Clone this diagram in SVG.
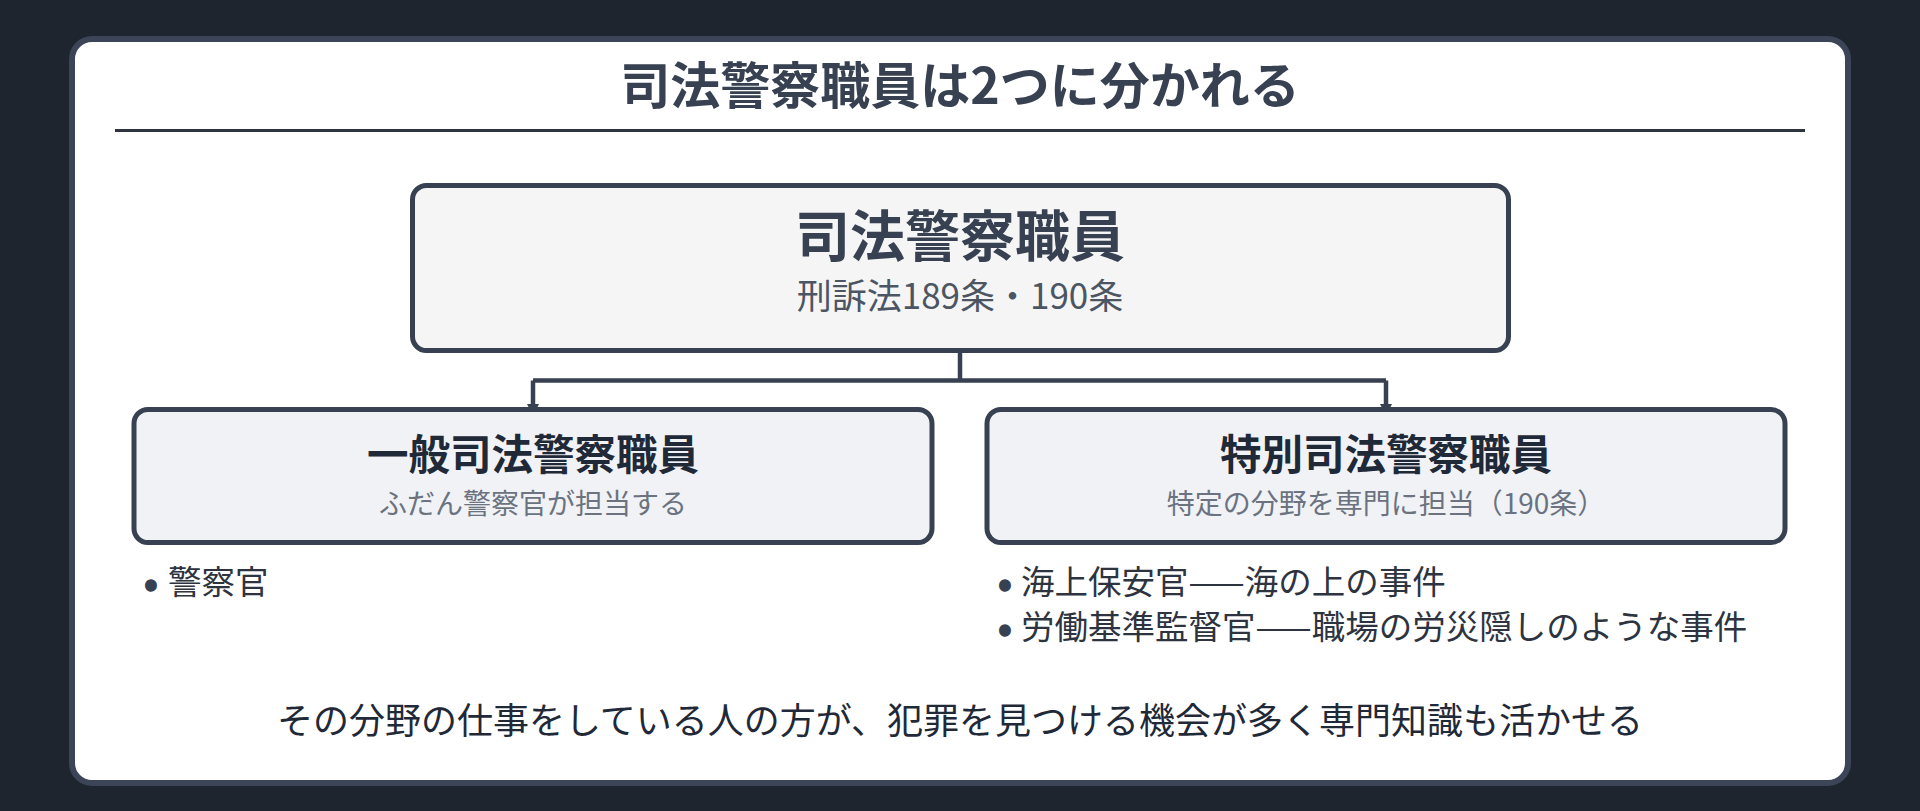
<svg xmlns="http://www.w3.org/2000/svg" width="1920" height="811" viewBox="0 0 1920 811">
<style>
text{font-family:"Noto Sans CJK JP","Noto Sans",sans-serif;}
.t{font-weight:700;fill:#374151;text-anchor:middle;}
.node{stroke:#374151;stroke-width:5;}
.ct{font-weight:700;fill:#1f2937;text-anchor:middle;font-size:41.5px;}
.cs{fill:#6b7280;text-anchor:middle;font-size:28px;}
.b{fill:#2d3440;font-size:33.5px;}
.bm{fill:#374151;stroke:#374151;stroke-width:3.5;stroke-linejoin:round;font-size:33.5px;text-anchor:middle;}
.conn{stroke:#374151;stroke-width:4.5;fill:none;}
</style>
<defs>
<marker id="arr" viewBox="0 0 10 10" refX="10" refY="5" markerWidth="12" markerHeight="24" markerUnits="userSpaceOnUse" orient="auto">
<path d="M0,0 L10,5 L0,10 z" fill="#374151"/>
</marker>
</defs>
<rect x="0" y="0" width="1920" height="811" fill="#1e252f"/>
<rect x="72" y="39" width="1776" height="744" rx="20" fill="#ffffff" stroke="#3b4557" stroke-width="6"/>
<text class="t" x="960" y="104" font-size="50">司法警察職員は2つに分かれる</text>
<line x1="115" y1="130.5" x2="1805" y2="130.5" stroke="#2d3440" stroke-width="3"/>
<g id="connectors">
<path class="conn" d="M960,353 V380.5"/>
<path class="conn" d="M533,380.5 H1386"/>
<path class="conn" d="M533,380.5 V416" marker-end="url(#arr)"/>
<path class="conn" d="M1386,380.5 V416" marker-end="url(#arr)"/>
</g>
<g id="node-root">
<rect class="node" x="412.5" y="185.5" width="1096" height="165" rx="14" fill="#f5f5f5"/>
<text class="t" x="960" y="256" font-size="55">司法警察職員</text>
<text x="960" y="309" font-size="35" fill="#4b5563" text-anchor="middle">刑訴法189条・190条</text>
</g>
<g id="node-general">
<rect class="node" x="134" y="409.5" width="798" height="133" rx="14" fill="#f0f2f6"/>
<text class="ct" x="533" y="470">一般司法警察職員</text>
<text class="cs" x="533" y="514">ふだん警察官が担当する</text>
</g>
<g id="node-special">
<rect class="node" x="987" y="409.5" width="798" height="133" rx="14" fill="#f0f2f6"/>
<text class="ct" x="1386" y="470">特別司法警察職員</text>
<text class="cs" x="1386" y="514">特定の分野を専門に担当（190条）</text>
</g>
<g id="list-general">
<text class="bm" x="151" y="595">•</text>
<text class="b" x="168" y="594">警察官</text>
</g>
<g id="list-special">
<text class="bm" x="1005" y="595">•</text>
<text class="b" x="1021" y="594">海上保安官——海の上の事件</text>
<text class="bm" x="1005" y="640">•</text>
<text class="b" x="1021" y="639">労働基準監督官——職場の労災隠しのような事件</text>
</g>
<text x="960" y="734" font-size="36" fill="#1f2937" text-anchor="middle">その分野の仕事をしている人の方が、犯罪を見つける機会が多く専門知識も活かせる</text>
</svg>
